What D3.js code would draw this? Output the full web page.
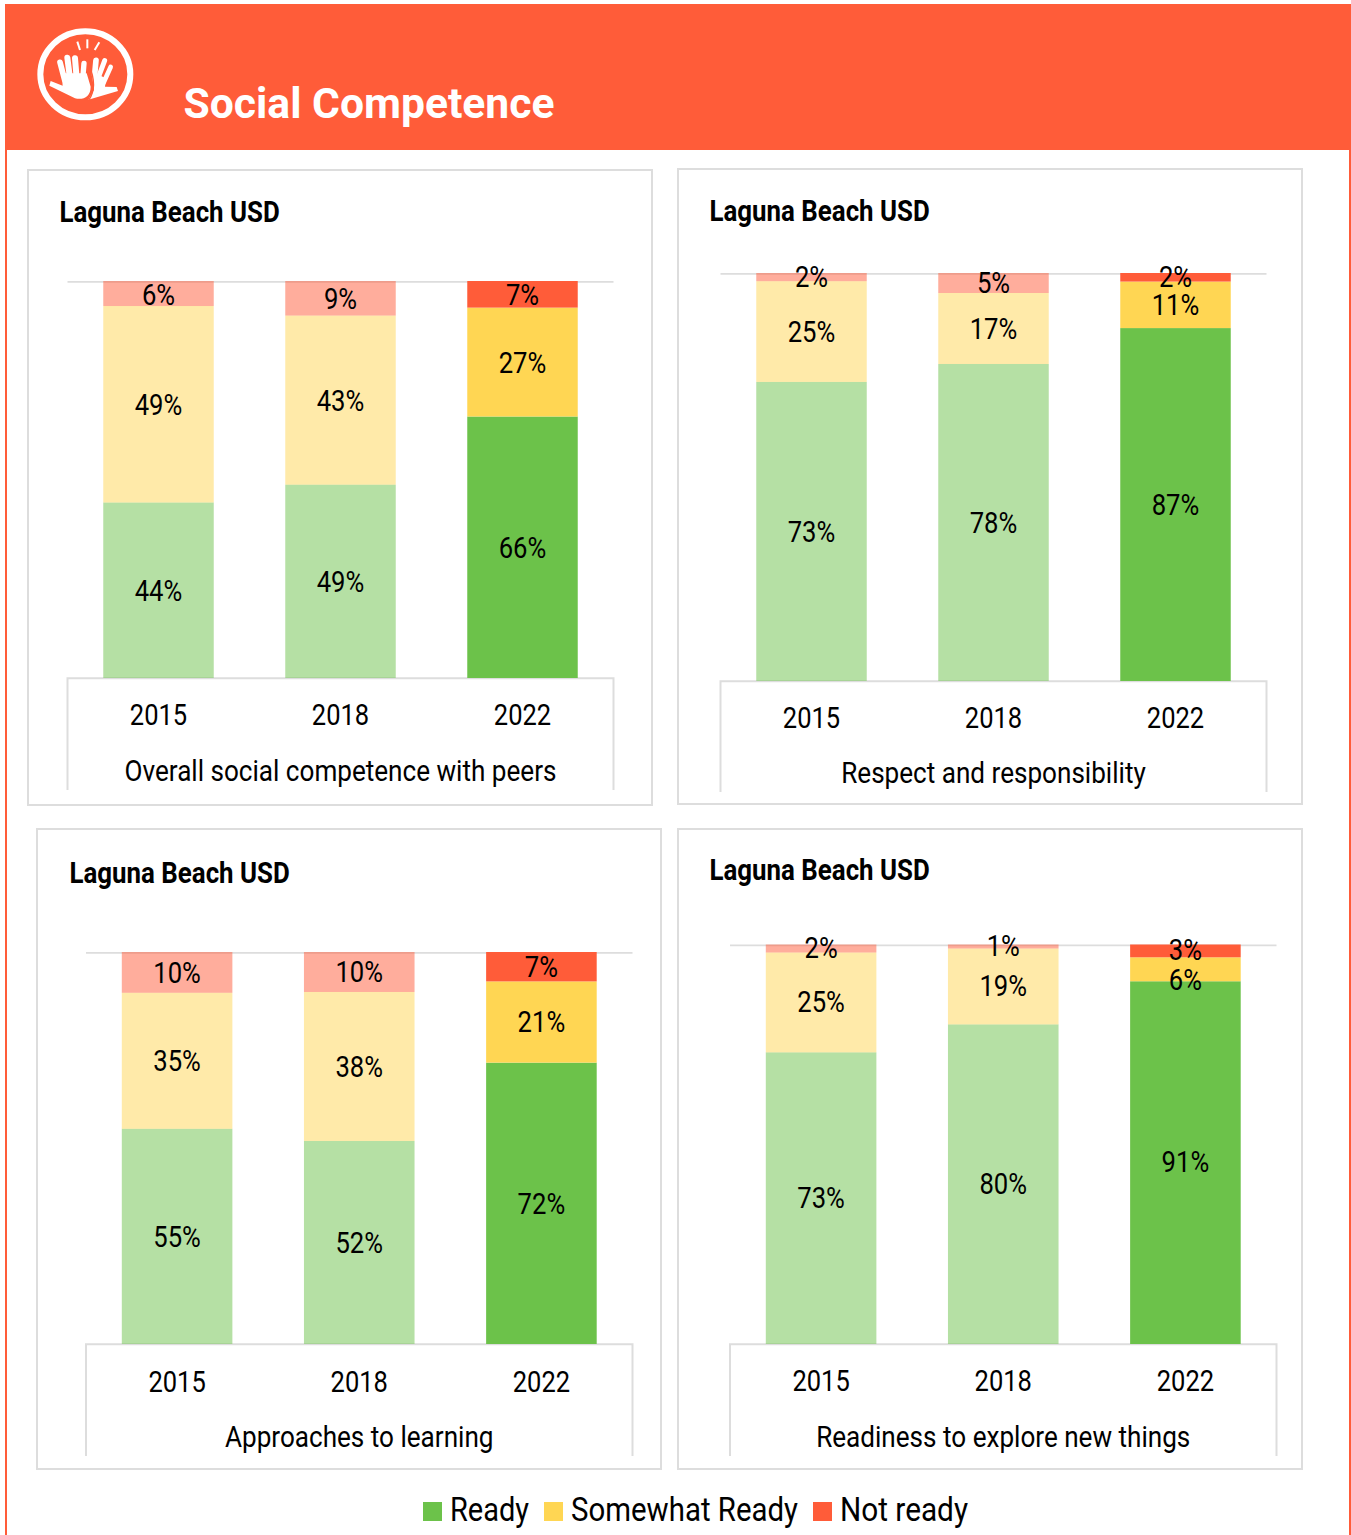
<!DOCTYPE html>
<html><head><meta charset="utf-8">
<script src="https://cdn.jsdelivr.net/npm/d3@7/dist/d3.min.js"></script>
<style>html,body{margin:0;padding:0;background:#fff}svg{display:block}text{font-family:Roboto,sans-serif;fill:#000}</style>
</head><body><svg id="c" width="1351" height="1535"></svg>
<script>
const years=["2015","2018","2022"];
const seriesNames=["Ready","Somewhat Ready","Not ready"];
const seriesColors=["#6CC24A","#FFD653","#FF5C39"];
const fadedYears=["2015","2018"];
const heading="Laguna Beach USD";
const pageTitle="Social Competence";
const categories=["Overall social competence with peers","Respect and responsibility","Approaches to learning","Readiness to explore new things"];
const ready=[[44.2,48.7,65.8],[73.3,77.7,86.5],[54.9,51.8,71.7],[73,80,90.8]];
const somewhat=[[49.49,42.6,27.4],[24.7,17.4,11.4],[34.7,38,20.7],[25,19,6]];
const notReady=[[6.3,8.7,6.7],[2,4.9,2.1],[10.4,10.2,7.49],[2,1,3.2]];

const layout=[
 {box:[28,170,624,635],head:[60,222],x:[67.5,613.5],y:[281,678],axisH:112,tick:47,cat:103,lab:0},
 {box:[678,169,624,635],head:[710,221],x:[720.5,1266.5],y:[273,681],axisH:111,tick:47,cat:102,lab:-1},
 {box:[37,829,624,640],head:[70,883],x:[86,632.5],y:[952,1344],axisH:112,tick:48,cat:103,lab:-.7},
 {box:[678,829,624,640],head:[710,880],x:[730,1276.5],y:[944.5,1344],axisH:112,tick:47,cat:103,lab:-1.5}
];
const SX=.85, GRID="#DDDDDD";
const svg=d3.select("#c");

// page frame and header
svg.append("rect").attr("x",6).attr("y",5).attr("width",1344).attr("height",1535).attr("fill","#fff").attr("stroke",seriesColors[2]).attr("stroke-width",2);
svg.append("rect").attr("x",5).attr("y",4).attr("width",1346).attr("height",146).attr("fill",seriesColors[2]);
svg.append("text").text(pageTitle).attr("x",183.5).attr("y",118).attr("font-size",42).attr("font-weight",700)
  .attr("textLength",371).attr("lengthAdjust","spacingAndGlyphs").style("fill","#fff");

// icon
const ic=svg.append("g").attr("transform","translate(20,15) scale(.3333)");
ic.append("ellipse").attr("cx",196).attr("cy",178).attr("rx",135).attr("ry",129).attr("fill","none").attr("stroke","#fff").attr("stroke-width",18);
[[172,80,180,105],[202,73,202,100],[238,82,224,105]].forEach(l=>ic.append("line").attr("x1",l[0]).attr("y1",l[1]).attr("x2",l[2]).attr("y2",l[3]).attr("stroke","#fff").attr("stroke-width",6));
const hand=(fingers,d)=>{
  const g=ic.append("g");
  g.append("path").attr("d",d).attr("fill","#fff");
  fingers.forEach(f=>g.append("line").attr("x1",f[0]).attr("y1",f[1]).attr("x2",f[2]).attr("y2",f[3]).attr("stroke","#fff").attr("stroke-width",f[4]).attr("stroke-linecap","round"));
};
hand([[228,136,224,180,17],[254,137,236,185,15],[272,156,250,205,14]],
     "M215,170 L258,190 L255,215 L290,216 L294,228 L205,254 L222,225 Z");
hand([[120,142,134,195,17],[142,128,150,190,18],[165,130,170,190,18],[192,145,188,195,16]],
     "M125,175 L200,175 L212,215 C212,245 190,256 165,250 L88,212 L92,198 L128,212 Z");
ic.append("path").attr("d","M207,150 C224,190 228,225 206,256").attr("fill","none").attr("stroke",seriesColors[2]).attr("stroke-width",4);

// panels
categories.forEach((cat,i)=>{
  const L=layout[i];
  const g=svg.append("g");
  g.append("rect").attr("x",L.box[0]).attr("y",L.box[1]).attr("width",L.box[2]).attr("height",L.box[3])
    .attr("fill","#fff").attr("stroke",GRID).attr("stroke-width",2);
  g.append("text").text(heading).attr("transform",`translate(${L.head[0]-.5},${L.head[1]}) scale(.892,1)`)
    .attr("font-size",29).attr("font-weight",700);

  const x=d3.scaleBand().domain(years).range(L.x).paddingInner(.393).paddingOuter(.1965);
  const y=d3.scaleLinear().domain([0,1]).range([L.y[1],L.y[0]]);
  const rows=years.map((yr,j)=>({year:yr,Ready:ready[i][j],"Somewhat Ready":somewhat[i][j],"Not ready":notReady[i][j]}));
  const stacked=d3.stack().keys(seriesNames).offset(d3.stackOffsetExpand)(rows);

  // top rule and axis frame
  g.append("line").attr("x1",L.x[0]).attr("x2",L.x[1]).attr("y1",L.y[0]+.8).attr("y2",L.y[0]+.8).attr("stroke",GRID).attr("stroke-width",1.7);
  g.append("path").attr("d",`M${L.x[0]},${L.y[1]+L.axisH}V${L.y[1]+.3}H${L.x[1]}V${L.y[1]+L.axisH}`)
    .attr("fill","none").attr("stroke",GRID).attr("stroke-width",2);

  stacked.forEach((s,k)=>{
    g.append("g").selectAll("rect").data(s).join("rect")
      .attr("x",d=>x(d.data.year)).attr("width",x.bandwidth())
      .attr("y",d=>y(d[1])).attr("height",d=>y(d[0])-y(d[1]))
      .attr("fill",seriesColors[k]).attr("fill-opacity",d=>fadedYears.includes(d.data.year)?.5:1);
  });
  stacked.forEach((s,k)=>{
    g.append("g").selectAll("text").data(s).join("text")
      .text(d=>Math.round(d.data[s.key])+"%")
      .attr("transform",d=>{
        // the thin middle segment's label sits at its lower edge in the last panel
        const nudge=(i===3&&k===1&&d.data.year==="2022")?11:0;
        return `translate(${x(d.data.year)+x.bandwidth()/2},${(y(d[0])+y(d[1]))/2+nudge+L.lab}) scale(.855,1)`;
      })
      .attr("text-anchor","middle").attr("dy",".37em").attr("font-size",30);
  });

  const ax=g.append("g").attr("transform",`translate(0,${L.y[1]})`).call(d3.axisBottom(x).tickSize(0));
  ax.select(".domain").remove();
  ax.selectAll("text").attr("y",0).attr("dy",0).attr("transform",`translate(0,${L.tick}) scale(${SX},1)`)
    .style("font-family","Roboto,sans-serif").attr("font-size",30).style("fill","#000");
  g.append("text").text(cat).attr("transform",`translate(${(L.x[0]+L.x[1])/2},${L.y[1]+L.cat}) scale(.87,1)`)
    .attr("text-anchor","middle").attr("font-size",30);
});

// legend
const legendX=[423,544,813];
const legendText=[79,227,128];
seriesNames.forEach((n,k)=>{
  svg.append("rect").attr("x",legendX[k]).attr("y",1502).attr("width",19).attr("height",19).attr("fill",seriesColors[k]);
  svg.append("text").text(n).attr("x",legendX[k]+27).attr("y",1521).attr("font-size",33)
    .attr("textLength",legendText[k]).attr("lengthAdjust","spacingAndGlyphs");
});
</script></body></html>
